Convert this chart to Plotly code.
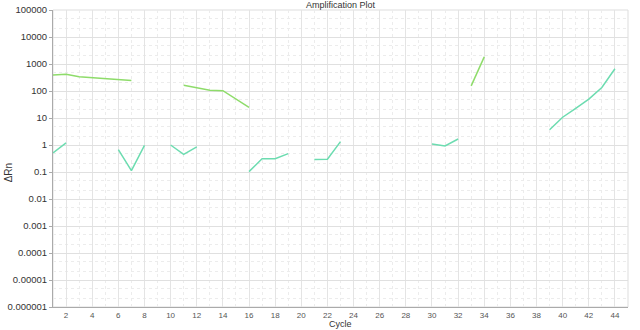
import plotly.graph_objects as go

cycles = list(range(1, 45))

# green series (per-cycle values, None = gap)
green_vals = {1: 390, 2: 414, 3: 340, 4: 313, 5: 302, 6: 271, 7: 243,
              11: 163, 12: 132, 13: 107, 14: 103, 15: 52, 16: 25,
              33: 155, 34: 1840}
# teal series
teal_vals = {1: 0.51, 2: 1.19,
             6: 0.68, 7: 0.112, 8: 0.97,
             10: 1.0, 11: 0.45, 12: 0.85,
             16: 0.103, 17: 0.308, 18: 0.308, 19: 0.48,
             21: 0.29, 22: 0.295, 23: 1.33,
             30: 1.09, 31: 0.92, 32: 1.67,
             39: 3.66, 40: 10.7, 41: 22.9, 42: 50, 43: 134.5, 44: 670}

green = [green_vals.get(c) for c in cycles]
teal = [teal_vals.get(c) for c in cycles]

ytick_vals = [1e-6, 1e-5, 1e-4, 1e-3, 1e-2, 1e-1, 1, 10, 100, 1000, 10000, 100000]
ytick_text = ["0.000001", "0.00001", "0.0001", "0.001", "0.01", "0.1",
              "1", "10", "100", "1000", "10000", "100000"]
xtick_vals = list(range(2, 45, 2))

fig = go.Figure()
fig.add_trace(go.Scatter(x=cycles, y=green, mode="lines", connectgaps=False,
                         line=dict(color="#8edc6a", width=1.5), showlegend=False))
fig.add_trace(go.Scatter(x=cycles, y=teal, mode="lines", connectgaps=False,
                         line=dict(color="#6cdcb0", width=1.5), showlegend=False))

fig.update_layout(
    width=640, height=330,
    margin=dict(l=53, r=12, t=10, b=23, autoexpand=False),
    paper_bgcolor="white", plot_bgcolor="white",
    font=dict(family="Liberation Sans, Arial, sans-serif", color="#333"),
    showlegend=False,
)
fig.update_xaxes(
    range=[1, 45], tickvals=xtick_vals, ticktext=[str(v) for v in xtick_vals],
    tickfont=dict(size=8, color="#555"), ticks="", automargin=False,
    showgrid=True, gridcolor="#e4e4e4", gridwidth=1,
    minor=dict(dtick=1, tick0=1, showgrid=True, gridcolor="#ececec", griddash="dot"),
    showline=True, linecolor="#aaaaaa", mirror=False, zeroline=False,
)
fig.update_yaxes(
    type="log", range=[-6, 5], tickvals=ytick_vals, ticktext=ytick_text,
    tickfont=dict(size=9.5, color="#333"), ticks="outside", ticklen=3, tickcolor="#aaaaaa",
    automargin=False,
    showgrid=True, gridcolor="#e0e0e0", gridwidth=1,
    minor=dict(showgrid=True, gridcolor="#ececec", griddash="dot"),
    showline=True, linecolor="#aaaaaa", zeroline=False,
)
# light right/top frame
fig.add_shape(type="rect", xref="paper", yref="paper", x0=0, y0=0, x1=1, y1=1,
              line=dict(color="#dddddd", width=1), layer="below")

# titles as annotations
fig.add_annotation(text="Amplification Plot", xref="paper", yref="paper",
                   x=0.5, y=1, yshift=5, xanchor="center", yanchor="middle",
                   showarrow=False, font=dict(size=9, color="#333"))
fig.add_annotation(text="Cycle", xref="paper", yref="paper",
                   x=0.5, y=0, yshift=-17, xanchor="center", yanchor="middle",
                   showarrow=False, font=dict(size=9, color="#333"))
fig.add_annotation(text="ΔRn", xref="paper", yref="paper",
                   x=0, xshift=-45, y=0.45, xanchor="center", yanchor="middle",
                   textangle=-90, showarrow=False, font=dict(size=10, color="#333"))

fig.write_html("out.html")
